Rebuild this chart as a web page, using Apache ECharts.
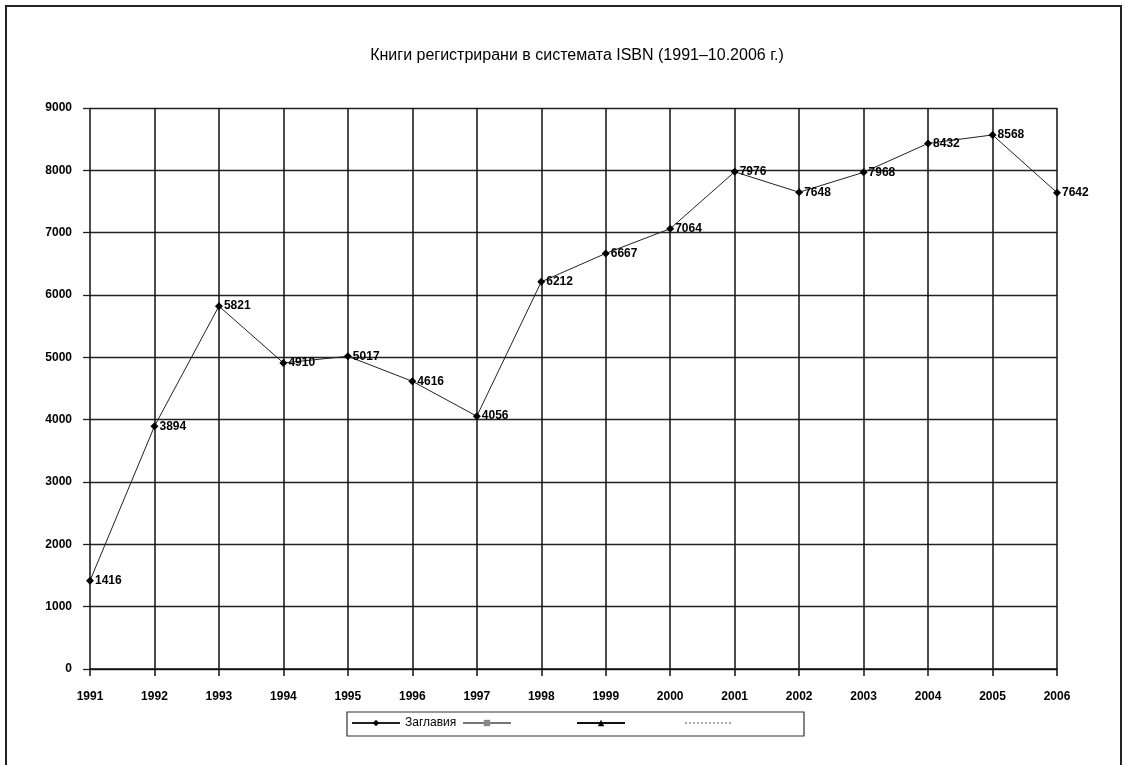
<!DOCTYPE html>
<html>
<head>
<meta charset="utf-8">
<script src="https://cdn.jsdelivr.net/npm/echarts@6/dist/echarts.min.js"></script>
<style>
html,body{margin:0;padding:0;background:#fff;}
#chart{width:1130px;height:765px;}
</style>
</head>
<body>
<div id="chart"></div>
<script>
const years = ['1991','1992','1993','1994','1995','1996','1997','1998','1999','2000','2001','2002','2003','2004','2005','2006'];
const titles = [1416, 3894, 5821, 4910, 5017, 4616, 4056, 6212, 6667, 7064, 7976, 7648, 7968, 8432, 8568, 7642];
const yTicks = [0, 1000, 2000, 3000, 4000, 5000, 6000, 7000, 8000, 9000];
const seriesName = 'Заглавия';
const emptyName2 = '\u200b';
const emptyName3 = '\u200b\u200b';
const emptyName4 = '\u200b\u200b\u200b';

const chart = echarts.init(document.getElementById('chart'));
const font = 'Liberation Sans, Arial, sans-serif';
const legendBase = {
  top: 717, itemWidth: 48, itemHeight: 8, itemGap: 4,
  textStyle: {fontFamily: font, fontSize: 12, color: '#000'},
  padding: 0
};
chart.setOption({
  animation: false,
  backgroundColor: '#fff',
  title: {
    text: 'Книги регистрирани в системата ISBN (1991–10.2006 г.)',
    left: 572, top: 43, textAlign: 'center',
    textStyle: {fontFamily: font, fontSize: 16, fontWeight: 'normal', color: '#000'}
  },
  graphic: [
    {type: 'rect', shape: {x: 6, y: 6, width: 1115, height: 800}, style: {fill: 'none', stroke: '#222', lineWidth: 2}, silent: true},
    {type: 'rect', shape: {x: 347, y: 712, width: 457, height: 24}, style: {fill: 'none', stroke: '#333', lineWidth: 1.2}, silent: true}
  ],
  legend: [
    Object.assign({}, legendBase, {left: 351, data: [seriesName]}),
    Object.assign({}, legendBase, {left: 462, data: [emptyName2]}),
    Object.assign({}, legendBase, {left: 576, data: [emptyName3]}),
    Object.assign({}, legendBase, {left: 684, data: [{name: emptyName4, itemStyle: {opacity: 0}}]})
  ],
  grid: {left: 90, right: 73, top: 108, bottom: 96},
  xAxis: {
    type: 'category', data: years, boundaryGap: false,
    axisLine: {lineStyle: {color: '#111', width: 1.5}},
    axisTick: {show: true, length: 7, interval: 0, lineStyle: {color: '#111', width: 1.5}},
    axisLabel: {interval: 0, margin: 22, fontFamily: font, fontSize: 12, fontWeight: 'bold', color: '#000'},
    splitLine: {show: true, interval: 0, lineStyle: {color: '#111', width: 1.5}}
  },
  yAxis: {
    type: 'value', min: yTicks[0], max: yTicks[yTicks.length - 1], interval: 1000,
    axisLine: {show: false},
    axisTick: {show: true, length: 7, lineStyle: {color: '#222', width: 1.3}},
    axisLabel: {margin: 18, fontFamily: font, fontSize: 12, fontWeight: 'bold', color: '#000',
      formatter: v => String(v)},
    splitLine: {show: true, lineStyle: {color: '#222', width: 1.3}}
  },
  series: [
    {
      name: seriesName, type: 'line', data: titles,
      symbol: 'diamond', symbolSize: 8,
      lineStyle: {color: '#222', width: 1},
      itemStyle: {color: '#000'},
      label: {show: true, position: 'right', distance: 1, fontFamily: font, fontSize: 12, fontWeight: 'bold', color: '#000'}
    },
    {
      name: emptyName2, type: 'line', data: [],
      symbol: 'rect', symbolSize: 7,
      lineStyle: {color: '#777', width: 1},
      itemStyle: {color: '#888'}
    },
    {
      name: emptyName3, type: 'line', data: [],
      symbol: 'triangle', symbolSize: 7,
      lineStyle: {color: '#111', width: 1.2},
      itemStyle: {color: '#000'}
    },
    {
      name: emptyName4, type: 'line', data: [],
      symbol: 'none',
      lineStyle: {color: '#aaa', width: 1, type: 'dotted'},
      itemStyle: {color: '#aaa'}
    }
  ]
});
</script>
</body>
</html>
